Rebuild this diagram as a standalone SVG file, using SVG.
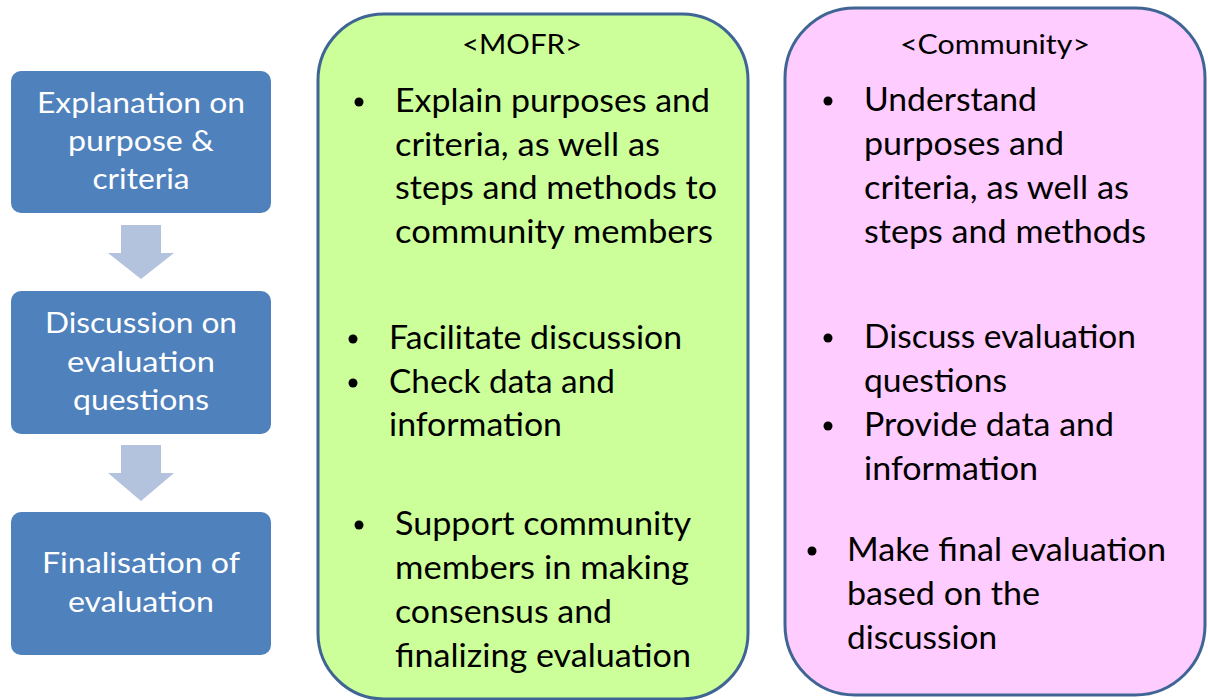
<svg xmlns="http://www.w3.org/2000/svg" width="1208" height="700" viewBox="0 0 1208 700">
<style>
.step{fill:#4F81BD;}
.stxt{font-family:Lato,"Liberation Sans",sans-serif;font-size:29px;fill:#FFFFFF;text-anchor:middle;}
.arrow{fill:#B3C2DD;}
.panel{stroke:#3F6595;stroke-width:3;}
.hdr{font-family:Lato,"Liberation Sans",sans-serif;font-size:27px;fill:#000;}
.body{font-family:Lato,"Liberation Sans",sans-serif;font-size:33px;fill:#000;}
.bul{fill:#000;}
</style>
<rect width="1208" height="700" fill="#FFFFFF"/>
<g id="panel-mofr">
<rect class="panel" x="318" y="14" width="430" height="685" rx="66" ry="66" fill="#CCFF99"/>
<text class="hdr" x="462" y="54" textLength="120" lengthAdjust="spacingAndGlyphs">&lt;MOFR&gt;</text>
<circle class="bul" cx="359" cy="102" r="4.5"/>
<text class="body" x="395" y="112" textLength="315" lengthAdjust="spacingAndGlyphs">Explain purposes and</text>
<text class="body" x="395" y="156" textLength="265" lengthAdjust="spacingAndGlyphs">criteria, as well as</text>
<text class="body" x="395" y="199" textLength="322" lengthAdjust="spacingAndGlyphs">steps and methods to</text>
<text class="body" x="395" y="243" textLength="318" lengthAdjust="spacingAndGlyphs">community members</text>
<circle class="bul" cx="353" cy="339" r="4.5"/>
<text class="body" x="389" y="349" textLength="293" lengthAdjust="spacingAndGlyphs">Facilitate discussion</text>
<circle class="bul" cx="353" cy="383" r="4.5"/>
<text class="body" x="389" y="393" textLength="226" lengthAdjust="spacingAndGlyphs">Check data and</text>
<text class="body" x="389" y="436" textLength="173" lengthAdjust="spacingAndGlyphs">information</text>
<circle class="bul" cx="359" cy="525" r="4.5"/>
<text class="body" x="395" y="535" textLength="296" lengthAdjust="spacingAndGlyphs">Support community</text>
<text class="body" x="395" y="579" textLength="294" lengthAdjust="spacingAndGlyphs">members in making</text>
<text class="body" x="395" y="623" textLength="217" lengthAdjust="spacingAndGlyphs">consensus and</text>
<text class="body" x="395" y="667" textLength="296" lengthAdjust="spacingAndGlyphs">finalizing evaluation</text>
</g>
<g id="panel-community">
<rect class="panel" x="785" y="8" width="420" height="687" rx="70" ry="70" fill="#FFCCFF"/>
<text class="hdr" x="900" y="54" textLength="190" lengthAdjust="spacingAndGlyphs">&lt;Community&gt;</text>
<circle class="bul" cx="828" cy="101" r="4.5"/>
<text class="body" x="864" y="111" textLength="173" lengthAdjust="spacingAndGlyphs">Understand</text>
<text class="body" x="864" y="155" textLength="200" lengthAdjust="spacingAndGlyphs">purposes and</text>
<text class="body" x="864" y="199" textLength="265" lengthAdjust="spacingAndGlyphs">criteria, as well as</text>
<text class="body" x="864" y="243" textLength="282" lengthAdjust="spacingAndGlyphs">steps and methods</text>
<circle class="bul" cx="828" cy="338" r="4.5"/>
<text class="body" x="864" y="348" textLength="272" lengthAdjust="spacingAndGlyphs">Discuss evaluation</text>
<text class="body" x="864" y="392" textLength="143" lengthAdjust="spacingAndGlyphs">questions</text>
<circle class="bul" cx="828" cy="426" r="4.5"/>
<text class="body" x="864" y="436" textLength="250" lengthAdjust="spacingAndGlyphs">Provide data and</text>
<text class="body" x="864" y="480" textLength="174" lengthAdjust="spacingAndGlyphs">information</text>
<circle class="bul" cx="812" cy="551" r="4.5"/>
<text class="body" x="847" y="561" textLength="319" lengthAdjust="spacingAndGlyphs">Make final evaluation</text>
<text class="body" x="847" y="605" textLength="193" lengthAdjust="spacingAndGlyphs">based on the</text>
<text class="body" x="847" y="649" textLength="150" lengthAdjust="spacingAndGlyphs">discussion</text>
</g>
<g id="step1">
<rect class="step" x="11" y="71" width="260" height="142" rx="10" ry="10"/>
<text class="stxt" x="141" y="113" textLength="208" lengthAdjust="spacingAndGlyphs">Explanation on</text>
<text class="stxt" x="141" y="151" textLength="146" lengthAdjust="spacingAndGlyphs">purpose &amp;</text>
<text class="stxt" x="141" y="189" textLength="97" lengthAdjust="spacingAndGlyphs">criteria</text>
</g>
<g id="step2">
<rect class="step" x="11" y="291" width="260" height="143" rx="10" ry="10"/>
<text class="stxt" x="141" y="333" textLength="192" lengthAdjust="spacingAndGlyphs">Discussion on</text>
<text class="stxt" x="141" y="372" textLength="148" lengthAdjust="spacingAndGlyphs">evaluation</text>
<text class="stxt" x="141" y="410" textLength="136" lengthAdjust="spacingAndGlyphs">questions</text>
</g>
<g id="step3">
<rect class="step" x="11" y="512" width="260" height="143" rx="10" ry="10"/>
<text class="stxt" x="141" y="573" textLength="198" lengthAdjust="spacingAndGlyphs">Finalisation of</text>
<text class="stxt" x="141" y="612" textLength="146" lengthAdjust="spacingAndGlyphs">evaluation</text>
</g>
<g id="connectors">
<polygon class="arrow" points="121,225 161,225 161,253 174,253 141,279 108,253 121,253"/>
<polygon class="arrow" points="121,445 161,445 161,473 174,473 141,501 108,473 121,473"/>
</g>
</svg>
